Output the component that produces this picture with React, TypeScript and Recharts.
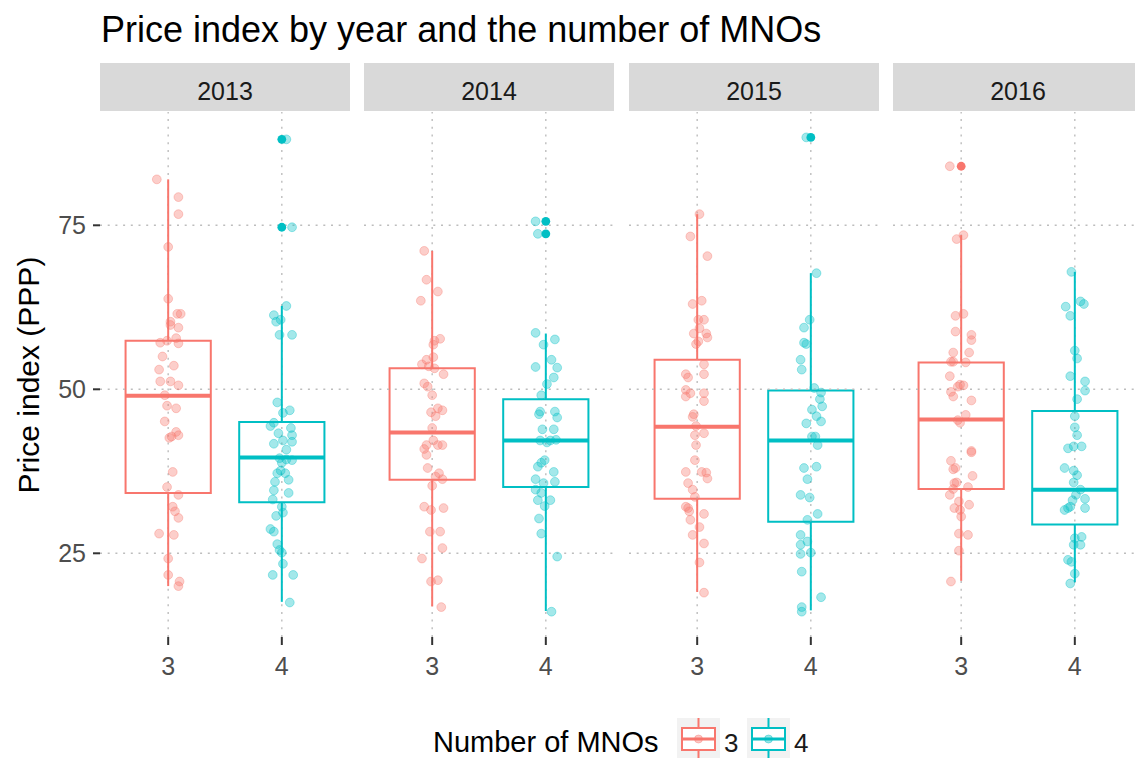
import React from 'react'
import {
  ScatterChart,
  Scatter,
  XAxis,
  YAxis,
  ReferenceArea,
  ReferenceLine,
} from 'recharts'

const YEARS = ['2013', '2014', '2015', '2016']
const MNO_LEVELS = ['3', '4']
const X_TICKS = [1, 2]
const Y_TICKS = [25, 50, 75]
const Y_DOMAIN: [number, number] = [12.24, 92.27]

// jittered observations: [offset from category centre, price index]
const PTS_2013_3: [number, number][] = [
  [-0.1, 82.0], [0.09, 79.3], [0.09, 76.7], [0.0, 71.7], [0.0, 63.8], [0.08, 61.5], [0.11, 61.5],
  [0.02, 60.3], [0.02, 59.8], [0.09, 59.4], [0.07, 57.8], [-0.01, 57.4], [-0.07, 57.1], [0.09, 57.0],
  [-0.05, 55.0], [-0.08, 53.0], [0.05, 53.6], [-0.07, 51.2], [0.02, 51.2], [0.09, 50.6], [-0.03, 49.1],
  [-0.01, 47.5], [0.07, 47.1], [-0.03, 45.1], [0.07, 43.5], [0.03, 42.8], [0.09, 43.0], [0.01, 42.6],
  [0.04, 37.4], [-0.01, 35.1], [0.09, 33.9], [0.04, 32.1], [0.06, 31.4], [0.09, 30.4], [-0.08, 28.0],
  [0.05, 27.8], [0.0, 24.2], [0.0, 21.7], [0.1, 20.7], [0.09, 20.0],
]
const PTS_2013_4: [number, number][] = [
  [0.04, 88.1], [0.09, 74.7], [0.04, 62.7], [-0.07, 61.3], [-0.05, 60.3], [-0.01, 60.6], [-0.02, 58.3],
  [0.09, 58.3], [-0.04, 48.0], [0.01, 46.4], [0.07, 46.8], [-0.07, 44.9], [-0.1, 44.4], [0.08, 44.1],
  [-0.03, 43.3], [0.09, 43.0], [0.01, 42.2], [-0.07, 41.7], [0.09, 42.0], [0.04, 40.8], [-0.02, 39.5],
  [0.04, 39.3], [0.09, 39.2], [0.0, 38.8], [-0.01, 37.6], [0.03, 37.2], [-0.04, 37.2], [0.06, 36.2],
  [-0.06, 35.9], [-0.07, 34.6], [0.06, 34.2], [-0.08, 33.2], [0.0, 32.1], [0.01, 31.2], [-0.05, 30.7],
  [-0.1, 28.7], [-0.07, 28.3], [-0.04, 26.4], [-0.02, 25.5], [0.0, 25.1], [0.01, 23.4], [-0.08, 21.7],
  [0.1, 21.7], [0.07, 17.5],
]
const PTS_2014_3: [number, number][] = [
  [-0.07, 71.1], [-0.05, 66.7], [0.05, 64.9], [-0.1, 63.5], [0.07, 57.7], [0.02, 57.4], [0.01, 56.8],
  [0.01, 54.9], [-0.05, 54.5], [-0.09, 53.8], [-0.03, 53.5], [0.02, 53.2], [0.1, 52.3], [-0.07, 50.9],
  [-0.04, 50.4], [0.0, 49.1], [0.05, 47.1], [0.09, 46.8], [-0.01, 46.5], [0.03, 45.9], [0.0, 44.1],
  [0.01, 42.2], [-0.05, 41.5], [0.05, 41.5], [0.09, 41.5], [-0.07, 40.9], [-0.05, 40.0], [-0.04, 38.0],
  [0.06, 37.2], [0.03, 36.7], [0.09, 36.3], [0.0, 35.3], [-0.07, 32.1], [-0.01, 31.6], [0.1, 31.9],
  [-0.02, 28.3], [0.07, 28.3], [0.09, 25.8], [-0.09, 24.2], [-0.01, 20.7], [0.05, 20.9], [0.08, 16.8],
]
const PTS_2014_4: [number, number][] = [
  [-0.09, 75.6], [-0.07, 73.7], [-0.09, 58.6], [0.08, 57.6], [-0.02, 56.8], [0.05, 54.5], [-0.09, 53.4],
  [0.1, 53.3], [0.07, 51.8], [0.01, 50.8], [-0.04, 49.1], [-0.05, 46.6], [0.08, 46.6], [-0.06, 46.2],
  [0.1, 45.7], [-0.03, 43.9], [0.07, 43.9], [-0.05, 42.2], [0.01, 41.9], [0.04, 42.2], [0.09, 42.3],
  [-0.01, 39.2], [-0.04, 38.8], [-0.07, 38.2], [0.07, 37.4], [-0.09, 36.3], [-0.02, 35.7], [0.08, 35.9],
  [-0.09, 34.7], [-0.04, 34.2], [-0.07, 33.1], [0.04, 33.1], [-0.01, 32.2], [-0.06, 30.3], [-0.04, 28.0],
  [0.1, 24.5], [0.05, 16.1],
]
const PTS_2015_3: [number, number][] = [
  [0.02, 76.7], [-0.06, 73.3], [0.09, 70.3], [-0.04, 63.0], [0.04, 63.5], [0.01, 60.6], [0.06, 60.6],
  [0.02, 59.3], [-0.03, 58.5], [0.08, 58.5], [0.09, 57.9], [-0.01, 56.9], [0.01, 57.3], [0.06, 53.8],
  [-0.1, 52.3], [-0.08, 51.8], [0.06, 52.3], [-0.1, 49.9], [-0.06, 49.4], [0.06, 49.4], [-0.1, 48.9],
  [0.06, 48.2], [-0.03, 46.2], [-0.04, 45.8], [-0.01, 44.4], [-0.02, 43.0], [0.06, 43.3], [-0.01, 41.5],
  [-0.02, 39.2], [-0.1, 37.4], [0.04, 37.4], [0.08, 37.3], [0.09, 36.4], [-0.08, 35.7], [-0.04, 34.7],
  [-0.02, 33.6], [-0.1, 32.1], [-0.08, 31.9], [-0.07, 31.4], [0.06, 31.0], [-0.06, 30.1], [0.02, 29.0],
  [-0.04, 27.8], [0.06, 26.5], [0.02, 23.6], [0.06, 19.0],
]
const PTS_2015_4: [number, number][] = [
  [-0.04, 88.4], [0.05, 67.7], [-0.01, 60.6], [-0.06, 59.4], [-0.06, 57.1], [-0.04, 56.9], [-0.09, 54.5],
  [-0.08, 53.0], [0.03, 50.2], [0.09, 49.5], [0.08, 48.5], [0.1, 47.4], [0.01, 46.9], [0.05, 45.9],
  [0.09, 45.1], [-0.04, 44.8], [0.01, 42.8], [0.04, 42.8], [0.06, 41.5], [-0.06, 38.0], [0.05, 38.2],
  [-0.03, 36.3], [-0.09, 33.9], [-0.01, 33.5], [0.06, 31.0], [-0.03, 30.1], [-0.09, 27.8], [-0.03, 26.8],
  [-0.09, 26.3], [0.0, 25.1], [-0.09, 24.9], [-0.08, 22.2], [0.09, 18.3], [-0.08, 16.8], [-0.08, 16.1],
]
const PTS_2016_3: [number, number][] = [
  [-0.1, 84.0], [0.02, 73.5], [-0.04, 72.9], [-0.05, 61.2], [0.02, 61.5], [-0.05, 58.8], [0.09, 58.3],
  [0.09, 57.5], [-0.07, 55.6], [0.07, 55.6], [-0.09, 54.2], [-0.07, 54.2], [0.04, 54.1], [-0.1, 52.0],
  [-0.03, 50.4], [-0.01, 50.7], [0.02, 50.6], [-0.09, 49.6], [-0.07, 48.9], [0.09, 48.3], [0.04, 46.1],
  [-0.03, 45.3], [-0.01, 44.9], [0.09, 40.6], [0.09, 40.4], [-0.09, 39.1], [-0.07, 37.8], [-0.05, 38.0],
  [0.1, 36.8], [-0.06, 35.7], [-0.04, 35.8], [0.06, 35.1], [-0.07, 34.8], [-0.1, 33.9], [-0.02, 32.9],
  [-0.06, 31.9], [0.07, 32.4], [-0.01, 31.6], [0.0, 30.6], [-0.02, 28.0], [0.06, 27.8], [-0.02, 25.4],
  [-0.09, 20.7],
]
const PTS_2016_4: [number, number][] = [
  [-0.03, 67.9], [-0.08, 62.6], [0.05, 63.4], [0.08, 63.0], [-0.04, 61.2], [0.0, 55.9], [0.02, 54.7],
  [-0.04, 52.0], [0.09, 51.2], [0.09, 49.8], [0.02, 48.5], [0.0, 45.9], [0.0, 44.2], [0.02, 43.0],
  [-0.06, 41.0], [-0.01, 41.3], [0.06, 41.3], [-0.09, 38.0], [-0.01, 37.6], [0.02, 36.9], [-0.01, 35.8],
  [0.05, 34.7], [0.09, 33.3], [0.01, 33.9], [-0.02, 33.1], [-0.04, 32.1], [-0.06, 31.9], [-0.09, 31.6],
  [0.09, 31.9], [0.06, 27.5], [0.0, 27.3], [-0.01, 26.3], [0.05, 26.3], [-0.06, 24.0], [-0.03, 23.7],
  [0.0, 21.9], [-0.04, 20.4],
]

// box stats: [lower whisker, q1, median, q3, upper whisker]
const BOX_2013_3 = [20.0, 34.2, 49.0, 57.4, 82.0]
const BOX_2013_4 = [17.6, 32.8, 39.6, 45.0, 62.7]
const BOX_2014_3 = [16.9, 36.2, 43.4, 53.2, 71.1]
const BOX_2014_4 = [16.2, 35.1, 42.2, 48.5, 58.5]
const BOX_2015_3 = [19.1, 33.3, 44.3, 54.5, 76.7]
const BOX_2015_4 = [16.3, 29.8, 42.2, 49.8, 67.7]
const BOX_2016_3 = [20.8, 34.8, 45.4, 54.1, 73.5]
const BOX_2016_4 = [20.6, 29.4, 34.7, 46.7, 67.9]

const OUT_2013_4 = [88.1, 74.7]
const OUT_2014_4 = [75.6, 73.7]
const OUT_2015_4 = [88.4]
const OUT_2016_3 = [84.0]

const POINTS: Record<string, [number, number][]> = {
  '2013-3': PTS_2013_3, '2013-4': PTS_2013_4, '2014-3': PTS_2014_3, '2014-4': PTS_2014_4,
  '2015-3': PTS_2015_3, '2015-4': PTS_2015_4, '2016-3': PTS_2016_3, '2016-4': PTS_2016_4,
}
const BOXES: Record<string, number[]> = {
  '2013-3': BOX_2013_3, '2013-4': BOX_2013_4, '2014-3': BOX_2014_3, '2014-4': BOX_2014_4,
  '2015-3': BOX_2015_3, '2015-4': BOX_2015_4, '2016-3': BOX_2016_3, '2016-4': BOX_2016_4,
}
const OUTLIERS: Record<string, number[]> = {
  '2013-4': OUT_2013_4, '2014-4': OUT_2014_4, '2015-4': OUT_2015_4, '2016-3': OUT_2016_3,
}

const COLORS: Record<string, string> = { '3': '#F8766D', '4': '#00BFC4' }
const FONT = '"Liberation Sans", Arial, sans-serif'
const GRID_COLOR = '#BDBDBD'
const GRID_DASH = '2 5.7'
const PANEL_LEFTS = [100, 364, 629, 893]
const PANEL_W = 250
const PANEL_TOP = 112
const PANEL_H = 525
const X_AXIS_H = 60
const Y_AXIS_W = 100
const HALF_BOX = 0.375

function JitterDot(props: any) {
  const { cx, cy, color } = props
  if (cx == null || cy == null) return null
  return (
    <circle cx={cx} cy={cy} r={4.4} fill={color} fillOpacity={0.36}
      stroke={color} strokeOpacity={0.36} strokeWidth={1} />
  )
}

function OutlierDot(props: any) {
  const { cx, cy, color } = props
  if (cx == null || cy == null) return null
  return <circle cx={cx} cy={cy} r={4.4} fill={color} />
}

function Facet({ year, index }: { year: string; index: number }) {
  const showY = index === 0
  const width = PANEL_W + (showY ? Y_AXIS_W : 0)
  const left = PANEL_LEFTS[index] - (showY ? Y_AXIS_W : 0)
  return (
    <div style={{ position: 'absolute', left, top: PANEL_TOP }}>
      <ScatterChart width={width} height={PANEL_H + X_AXIS_H}
        margin={{ top: 0, right: 0, bottom: 0, left: 0 }}>
        <XAxis type='number' dataKey='x' domain={[0.4, 2.6]} ticks={X_TICKS}
          allowDataOverflow height={X_AXIS_H} axisLine={false}
          tickSize={8} tickMargin={12}
          tickLine={{ stroke: '#333333', strokeWidth: 2 }}
          tick={{ fill: '#4D4D4D', fontSize: 25 }}
          tickFormatter={(v: number) => MNO_LEVELS[Math.round(v) - 1]} />
        <YAxis type='number' dataKey='y' domain={Y_DOMAIN} ticks={Y_TICKS}
          allowDataOverflow width={showY ? Y_AXIS_W : 0} axisLine={false}
          tickSize={7} tickMargin={7}
          tickLine={showY ? { stroke: '#333333', strokeWidth: 2 } : false}
          tick={showY ? { fill: '#4D4D4D', fontSize: 25 } : false} />
        {/* dotted grid at the tick values */}
        {Y_TICKS.map((t) => (
          <ReferenceLine key={`gy-${t}`} y={t} stroke={GRID_COLOR}
            strokeDasharray={GRID_DASH} strokeWidth={1.4} />
        ))}
        {X_TICKS.map((t) => (
          <ReferenceLine key={`gx-${t}`} x={t} stroke={GRID_COLOR}
            strokeDasharray={GRID_DASH} strokeWidth={1.4} />
        ))}
        {MNO_LEVELS.map((lvl, i) => {
          const key = `${year}-${lvl}`
          const pos = i + 1
          const [lo, q1, med, q3, hi] = BOXES[key]
          const color = COLORS[lvl]
          return (
            <React.Fragment key={key}>
              <ReferenceLine segment={[{ x: pos, y: q3 }, { x: pos, y: hi }]}
                stroke={color} strokeWidth={2} />
              <ReferenceLine segment={[{ x: pos, y: lo }, { x: pos, y: q1 }]}
                stroke={color} strokeWidth={2} />
              <ReferenceArea x1={pos - HALF_BOX} x2={pos + HALF_BOX} y1={q1} y2={q3}
                fill='none' stroke={color} strokeWidth={2} strokeOpacity={1} />
              <ReferenceLine segment={[{ x: pos - HALF_BOX, y: med }, { x: pos + HALF_BOX, y: med }]}
                stroke={color} strokeWidth={4} />
            </React.Fragment>
          )
        })}
        {MNO_LEVELS.map((lvl, i) => {
          const key = `${year}-${lvl}`
          const outs = OUTLIERS[key] ?? []
          return (
            <Scatter key={`out-${key}`} data={outs.map((v) => ({ x: i + 1, y: v }))}
              isAnimationActive={false}
              shape={(p: any) => <OutlierDot {...p} color={COLORS[lvl]} />} />
          )
        })}
        {MNO_LEVELS.map((lvl, i) => {
          const key = `${year}-${lvl}`
          return (
            <Scatter key={`pts-${key}`}
              data={POINTS[key].map(([dx, v]) => ({ x: i + 1 + dx, y: v }))}
              isAnimationActive={false}
              shape={(p: any) => <JitterDot {...p} color={COLORS[lvl]} />} />
          )
        })}
      </ScatterChart>
    </div>
  )
}

function LegendKey({ x, color }: { x: number; color: string }) {
  return (
    <g>
      <rect x={x} y={718} width={43} height={44} fill='#F2F2F2' />
      <line x1={x + 21.5} x2={x + 21.5} y1={718} y2={728} stroke={color} strokeWidth={2} />
      <line x1={x + 21.5} x2={x + 21.5} y1={750} y2={762} stroke={color} strokeWidth={2} />
      <rect x={x + 5} y={728} width={33} height={22} fill='#FFFFFF' stroke={color} strokeWidth={2} />
      <line x1={x + 5} x2={x + 38} y1={739} y2={739} stroke={color} strokeWidth={3} />
      <circle cx={x + 21.5} cy={739} r={4} fill={color} fillOpacity={0.4}
        stroke={color} strokeOpacity={0.4} strokeWidth={1} />
    </g>
  )
}

export default function App() {
  return (
    <div style={{
      position: 'absolute', left: 0, top: 0, width: 1135, height: 758,
      overflow: 'hidden', background: '#FFFFFF', fontFamily: FONT,
    }}>
      {YEARS.map((y, i) => <Facet key={y} year={y} index={i} />)}
      <svg width={1135} height={758}
        style={{ position: 'absolute', left: 0, top: 0, pointerEvents: 'none' }}
        fontFamily={FONT}>
        <text x={101} y={42} fontSize={36} fill='#000000'>
          Price index by year and the number of MNOs
        </text>
        {YEARS.map((y, i) => (
          <g key={y}>
            <rect x={PANEL_LEFTS[i]} y={63} width={PANEL_W} height={48} fill='#D9D9D9' />
            <text x={PANEL_LEFTS[i] + PANEL_W / 2} y={100} fontSize={25}
              fill='#1A1A1A' textAnchor='middle'>{y}</text>
          </g>
        ))}
        <text transform='translate(39,375) rotate(-90)' fontSize={30}
          fill='#000000' textAnchor='middle'>Price index (PPP)</text>
        <text x={433} y={752} fontSize={29} fill='#000000'>Number of MNOs</text>
        <LegendKey x={677} color={COLORS['3']} />
        <text x={724} y={752} fontSize={26} fill='#1A1A1A'>3</text>
        <LegendKey x={747} color={COLORS['4']} />
        <text x={794} y={752} fontSize={26} fill='#1A1A1A'>4</text>
      </svg>
    </div>
  )
}
